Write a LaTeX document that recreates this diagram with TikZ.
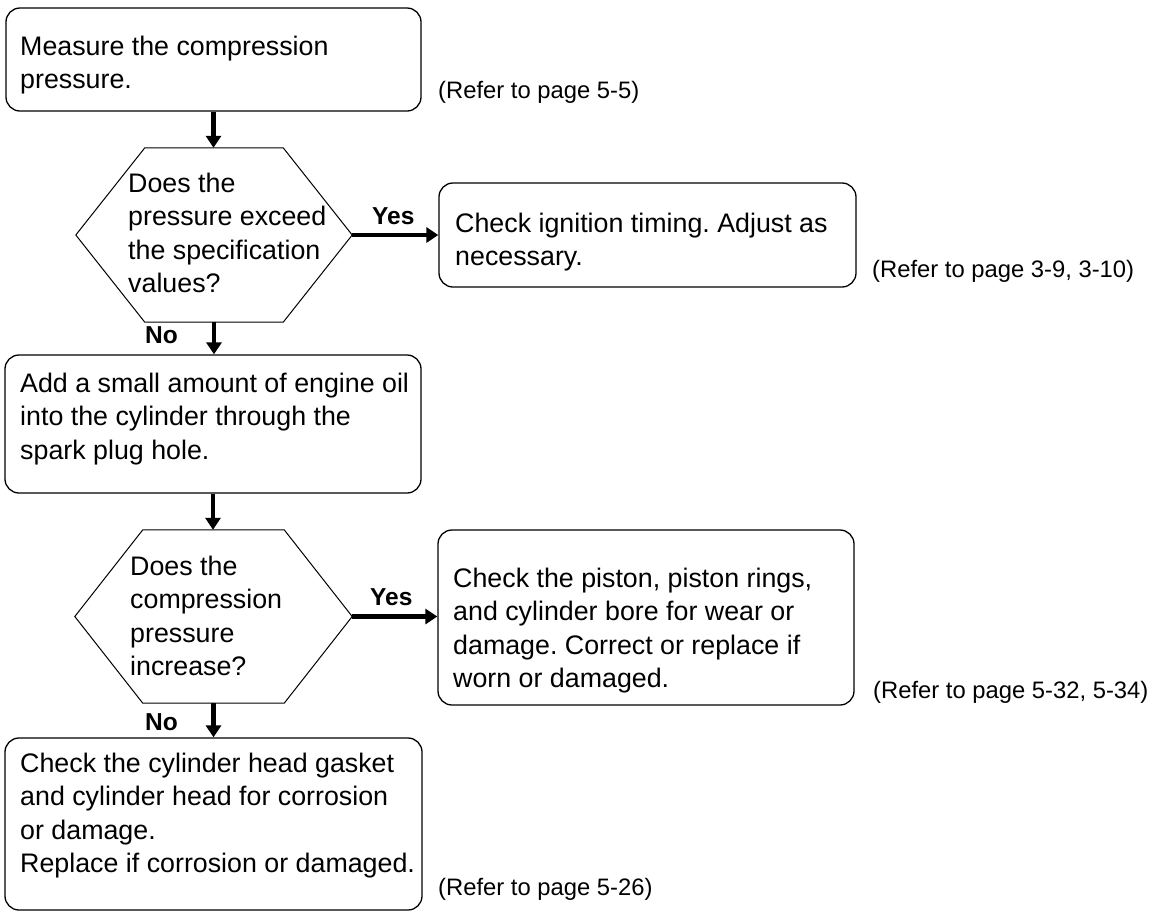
\documentclass[tikz,border=0pt]{standalone}
\usepackage{fontspec}
\setmainfont{Liberation Sans}
\usetikzlibrary{arrows.meta,calc}
\newcommand{\mylines}[1]{\vtop{\halign{##\hfil\cr#1\crcr}}}
\frenchspacing
\begin{document}
\begin{tikzpicture}[x=1pt,y=-1pt,
  box/.style={draw, line width=1.3pt, rounded corners=14pt, inner sep=0pt},
  hexbox/.style={draw=none, inner sep=0pt},
  txt/.style={anchor=base west, inner sep=0pt, font=\fontsize{26.8}{33.5}\selectfont},
  reftxt/.style={anchor=base west, inner sep=0pt, font=\fontsize{23.8}{28}\selectfont},
  lbl/.style={anchor=base west, inner sep=0pt, font=\fontsize{24.5}{28}\selectfont\bfseries},
  flow/.style={line width=4.8pt, -{Triangle[width=15pt,length=12pt]}},
  hexline/.style={line width=1pt, line join=miter}
]
\useasboundingbox (0,0) rectangle (1156,911);
\fill[white] (0,0) rectangle (1156,911);

% Box 1
\node[box, minimum width=415pt, minimum height=103pt] (b1) at (213.5,59.5) {};
\node[txt] (t1) at (20,55) {\mylines{Measure the compression\cr pressure.}};
\node[reftxt] (r1) at (438,98) {(Refer to page 5-5)};

% Hexagon 1
\node[hexbox, minimum width=276pt, minimum height=174pt] (h1) at (214,235) {};
\draw[hexline] (h1.west) -- ($(h1.north west)+(69,0)$) -- ($(h1.north east)+(-69,0)$) -- (h1.east)
  -- ($(h1.south east)+(-69,0)$) -- ($(h1.south west)+(69,0)$) -- cycle;
\node[txt] (ht1) at (128,192) {\mylines{Does the\cr pressure exceed\cr the specification\cr values?}};
\node[lbl] (y1) at (372,224) {Yes};

% Box 2
\node[box, minimum width=417pt, minimum height=104pt] (b2) at (647.5,235) {};
\node[txt] (t2) at (455,232) {\mylines{Check ignition timing. Adjust as\cr necessary.}};
\node[reftxt] (r2) at (872,277) {(Refer to page 3-9, 3-10)};

\node[lbl] (n1) at (145,343) {No};

% Box 3
\node[box, minimum width=416pt, minimum height=138pt] (b3) at (213,424) {};
\node[txt] (t3) at (20,392) {\mylines{Add a small amount of engine oil\cr into the cylinder through the\cr spark plug hole.}};

% Hexagon 2
\node[hexbox, minimum width=277pt, minimum height=173pt] (h2) at (213.5,616.5) {};
\draw[hexline] (h2.west) -- ($(h2.north west)+(68,0)$) -- ($(h2.north east)+(-68,0)$) -- (h2.east)
  -- ($(h2.south east)+(-68,0)$) -- ($(h2.south west)+(68,0)$) -- cycle;
\node[txt] (ht2) at (130,575) {\mylines{Does the\cr compression\cr pressure\cr increase?}};
\node[lbl] (y2) at (370,605) {Yes};

% Box 4
\node[box, minimum width=416pt, minimum height=175pt] (b4) at (646,617.5) {};
\node[txt] (t4) at (453,587) {\mylines{Check the piston, piston rings,\cr and cylinder bore for wear or\cr damage. Correct or replace if\cr worn or damaged.}};
\node[reftxt] (r3) at (873,698) {(Refer to page 5-32, 5-34)};

\node[lbl] (n2) at (145,730) {No};

% Box 5
\node[box, minimum width=417pt, minimum height=172pt] (b5) at (213.5,824) {};
\node[txt] (t5) at (20,772) {\mylines{Check the cylinder head gasket\cr and cylinder head for corrosion\cr or damage.\cr Replace if corrosion or damaged.}};
\node[reftxt] (r4) at (438,895) {(Refer to page 5-26)};

% Connectors
\draw[flow] (b1.south) -- (b1.south |- h1.north);
\draw[flow] (h1.east) -- (h1.east -| b2.west);
\draw[flow] (h1.south) -- (h1.south |- b3.north);
\draw[flow] (b3.south) -- (b3.south |- h2.north);
\draw[flow] (h2.east) -- (h2.east -| b4.west);
\draw[flow] (h2.south) -- (h2.south |- b5.north);
\end{tikzpicture}
\end{document}
